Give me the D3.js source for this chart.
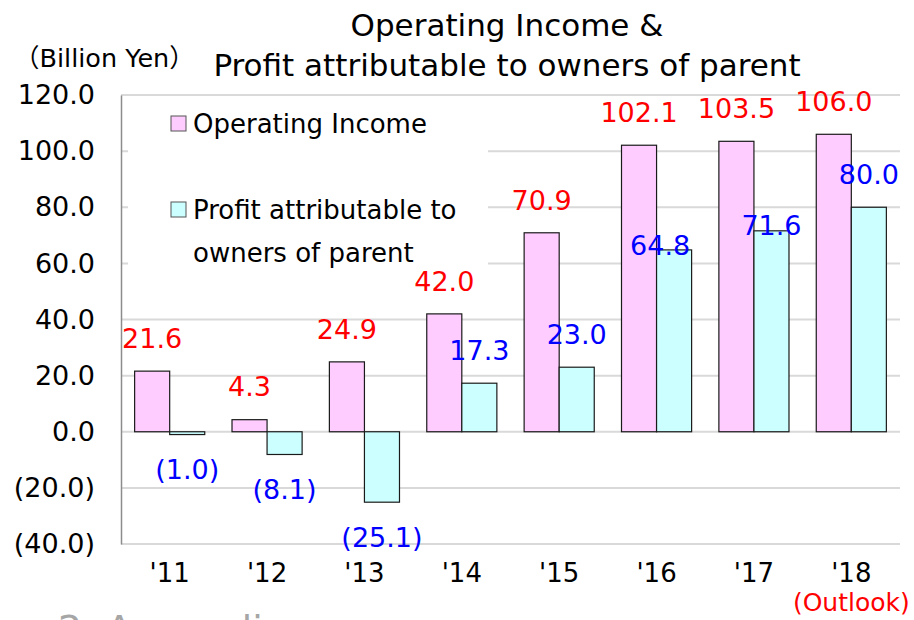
<!DOCTYPE html>
<html>
<head>
<meta charset="utf-8">
<script src="https://cdn.jsdelivr.net/npm/d3@7"></script>
<style>
  body { margin: 0; background: #fff; }
  text { font-family: "DejaVu Sans", Verdana, "Noto Sans CJK JP", sans-serif; }
</style>
</head>
<body>
<script>
// chart data
var years = ["'11", "'12", "'13", "'14", "'15", "'16", "'17", "'18"];
var operatingIncome = [21.6, 4.3, 24.9, 42.0, 70.9, 102.1, 103.5, 106.0];
var profitOwners = [-1.0, -8.1, -25.1, 17.3, 23.0, 64.8, 71.6, 80.0];
var yTicks = [-40, -20, 0, 20, 40, 60, 80, 100, 120];

// a couple of blue labels were nudged by hand in the original
var profitLabelShift = [[0, 0], [0, 0], [0, 0], [0, 0], [0, 0], [-14, 28], [0, 27], [0, 0]];

var svgWidth = 914;
var svgHeight = 620;
var fontFam = '"DejaVu Sans", Verdana, "Noto Sans CJK JP", sans-serif';

var svg = d3.select('body')
  .append('svg')
  .attr('width', svgWidth)
  .attr('height', svgHeight);

var plot = { left: 121, right: 900, top: 95, bottom: 544 };

var xScale = d3.scaleBand()
  .domain(years)
  .range([plot.left, plot.right])
  .paddingInner(0.28)
  .paddingOuter(0.14);

var xInner = d3.scaleBand()
  .domain(['oi', 'profit'])
  .range([0, xScale.bandwidth()]);

var yScale = d3.scaleLinear()
  .domain([-40, 120])
  .range([plot.bottom, plot.top]);

function fmt(v) {
  return v < 0 ? '(' + Math.abs(v).toFixed(1) + ')' : v.toFixed(1);
}

// gridlines
svg.append('g')
  .selectAll('line')
  .data(yTicks)
  .enter()
  .append('line')
  .attr('x1', plot.left)
  .attr('x2', plot.right)
  .attr('y1', d => yScale(d))
  .attr('y2', d => yScale(d))
  .attr('stroke', '#d9d9d9')
  .attr('stroke-width', 2);

// y axis
var leftAxis = d3.axisLeft(yScale)
  .tickValues(yTicks)
  .tickSize(0)
  .tickPadding(26)
  .tickFormat(fmt);

var yAxisG = svg.append('g')
  .attr('transform', `translate(${plot.left}, 0)`)
  .call(leftAxis);
yAxisG.select('.domain').attr('stroke', '#8c8c8c').attr('stroke-width', 1.5);
yAxisG.selectAll('text')
  .attr('font-size', 27)
  .attr('fill', '#000')
  .attr('font-family', fontFam);

// legend background hides the gridlines behind it
svg.append('rect')
  .attr('x', 128)
  .attr('y', 100)
  .attr('width', 360)
  .attr('height', 188)
  .attr('fill', '#fff');

// bars
var groups = svg.append('g')
  .selectAll('g')
  .data(years)
  .enter()
  .append('g')
  .attr('transform', d => `translate(${xScale(d)}, 0)`);

groups.append('rect')
  .attr('x', xInner('oi'))
  .attr('width', xInner.bandwidth())
  .attr('y', (d, i) => yScale(Math.max(0, operatingIncome[i])))
  .attr('height', (d, i) => Math.abs(yScale(operatingIncome[i]) - yScale(0)))
  .attr('fill', '#ffccff')
  .attr('stroke', '#1a1a1a')
  .attr('stroke-width', 1.2);

groups.append('rect')
  .attr('x', xInner('profit'))
  .attr('width', xInner.bandwidth())
  .attr('y', (d, i) => yScale(Math.max(0, profitOwners[i])))
  .attr('height', (d, i) => Math.abs(yScale(profitOwners[i]) - yScale(0)))
  .attr('fill', '#ccffff')
  .attr('stroke', '#1a1a1a')
  .attr('stroke-width', 1.2);

// value labels
groups.append('text')
  .attr('x', xInner('oi') + xInner.bandwidth() / 2)
  .attr('y', (d, i) => yScale(operatingIncome[i]) - 33)
  .attr('dy', '0.36em')
  .attr('text-anchor', 'middle')
  .attr('font-size', 27)
  .attr('fill', '#ff0000')
  .text((d, i) => fmt(operatingIncome[i]));

groups.append('text')
  .attr('x', (d, i) => xInner('profit') + xInner.bandwidth() / 2 + profitLabelShift[i][0])
  .attr('y', (d, i) => {
    var v = profitOwners[i];
    return (v < 0 ? yScale(v) + 35 : yScale(v) - 33) + profitLabelShift[i][1];
  })
  .attr('dy', '0.36em')
  .attr('text-anchor', 'middle')
  .attr('font-size', 27)
  .attr('fill', '#0000ff')
  .text((d, i) => fmt(profitOwners[i]));

// x labels
var bottomAxis = d3.axisBottom(xScale).tickSize(0).tickPadding(20);
var xAxisG = svg.append('g')
  .attr('transform', `translate(0, ${plot.bottom})`)
  .call(bottomAxis);
xAxisG.select('.domain').remove();
xAxisG.selectAll('text')
  .attr('font-size', 26)
  .attr('fill', '#000')
  .attr('font-family', fontFam);

svg.append('text')
  .attr('x', xScale("'18") + xScale.bandwidth() / 2)
  .attr('y', 611)
  .attr('text-anchor', 'middle')
  .attr('font-size', 25)
  .attr('fill', '#ff0000')
  .text('(Outlook)');

// legend
var legendItems = [
  { color: '#ffccff', lines: ['Operating Income'], y: 124 },
  { color: '#ccffff', lines: ['Profit attributable to', 'owners of parent'], y: 210 }
];
var legend = svg.append('g')
  .selectAll('g')
  .data(legendItems)
  .enter()
  .append('g');

legend.append('rect')
  .attr('x', 171)
  .attr('y', d => d.y - 8)
  .attr('width', 15)
  .attr('height', 15)
  .attr('fill', d => d.color)
  .attr('stroke', '#555')
  .attr('stroke-width', 1);

legend.each(function(d) {
  var t = d3.select(this).append('text')
    .attr('x', 193)
    .attr('y', d.y)
    .attr('font-size', 26)
    .attr('fill', '#000');
  d.lines.forEach(function(line, k) {
    t.append('tspan')
      .attr('x', 193)
      .attr('dy', k === 0 ? '0.36em' : 43)
      .text(line);
  });
});

// titles
svg.append('text')
  .attr('x', 507)
  .attr('y', 36)
  .attr('text-anchor', 'middle')
  .attr('font-size', 31)
  .text('Operating Income &');

svg.append('text')
  .attr('x', 507)
  .attr('y', 76)
  .attr('text-anchor', 'middle')
  .attr('font-size', 31)
  .text('Profit attributable to owners of parent');

svg.append('text')
  .attr('x', 14)
  .attr('y', 67)
  .attr('font-size', 25.5)
  .text('（Billion Yen）');

// next slide heading, cut off at the bottom edge like in the original
svg.append('text')
  .attr('x', 58)
  .attr('y', 642)
  .attr('font-size', 38)
  .attr('fill', '#a6a6a6')
  .text('2. Appendix');
</script>
</body>
</html>
